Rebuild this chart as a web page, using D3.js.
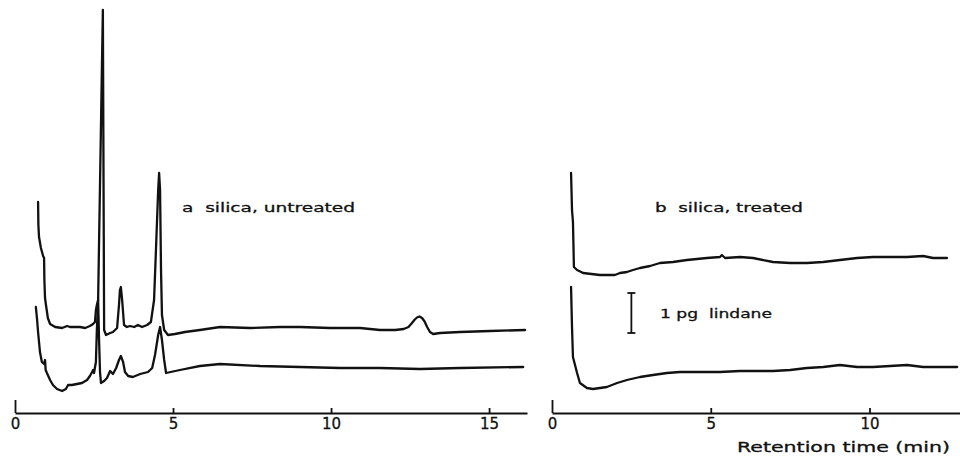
<!DOCTYPE html>
<html>
<head>
<meta charset="utf-8">
<script src="https://cdn.jsdelivr.net/npm/d3@7"></script>
<style>
  html, body { margin: 0; padding: 0; background: #fff; }
  svg { display: block; }
  text { font-family: "DejaVu Sans", sans-serif; fill: #111; }
</style>
</head>
<body>
<svg id="chart" width="960" height="457"></svg>
<script>
// ---------- DATA ----------
// Panel a: silica, untreated  — [retention time (min), detector response (arb.)]
const untreatedUpper = [
  [0.73,21.1],[0.74,18.8],[0.76,17.6],[0.82,16.5],[0.89,15.7],[0.92,15.5],[0.93,13.3],[0.95,11.5],
  [0.98,10.8],[1.04,9.5],[1.11,8.9],[1.27,8.6],[1.49,8.5],[1.65,8.7],[1.74,8.6],[1.90,8.6],
  [2.06,8.6],[2.22,8.5],[2.37,8.7],[2.47,8.9],[2.53,9.1],[2.56,10.3],[2.59,10.8],[2.63,11.3],
  [2.78,40.3],[2.82,8.3],[2.88,7.8],[3.01,8.0],[3.10,8.1],[3.23,8.5],[3.29,10.8],[3.32,12.3],
  [3.35,12.6],[3.39,11.3],[3.45,8.8],[3.54,8.6],[3.64,8.7],[3.77,8.6],[3.89,8.8],[4.02,8.6],
  [4.18,8.8],[4.30,9.1],[4.40,11.3],[4.46,16.3],[4.53,22.3],[4.56,24.0],[4.59,22.3],[4.62,14.3],
  [4.65,9.8],[4.72,8.3],[4.84,7.8],[5.06,7.9],[5.38,8.1],[5.85,8.3],[6.49,8.6],[7.44,8.5],
  [8.39,8.6],[9.02,8.6],[9.97,8.5],[10.92,8.5],[11.55,8.3],[12.03,8.3],[12.30,8.4],[12.45,8.6],
  [12.56,9.0],[12.65,9.35],[12.72,9.55],[12.80,9.65],[12.88,9.5],[12.96,9.15],[13.04,8.6],
  [13.13,8.1],[13.23,7.9],[13.45,8.0],[14.08,8.1],[15.03,8.2],[16.14,8.3]
];
const untreatedLower = [
  [0.66,10.6],[0.70,9.3],[0.73,8.1],[0.79,6.1],[0.85,5.1],[0.92,4.9],[0.95,5.3],[0.97,4.3],
  [1.01,4.0],[1.11,3.3],[1.20,2.8],[1.33,2.4],[1.49,2.2],[1.61,2.4],[1.68,2.8],[1.80,2.8],
  [1.96,2.9],[2.12,3.0],[2.28,3.3],[2.37,3.7],[2.44,4.1],[2.47,4.3],[2.50,4.0],[2.56,5.1],
  [2.59,8.3],[2.63,11.3],[2.66,7.3],[2.69,4.1],[2.72,3.0],[2.82,3.2],[2.91,3.5],[3.01,4.2],
  [3.10,3.9],[3.20,4.5],[3.29,5.3],[3.35,5.7],[3.42,5.1],[3.48,4.1],[3.58,3.7],[3.73,3.6],
  [3.96,3.9],[4.21,4.1],[4.34,4.5],[4.43,5.8],[4.53,7.8],[4.59,8.6],[4.65,7.3],[4.72,5.3],
  [4.78,4.0],[5.22,4.3],[5.85,4.7],[6.49,4.9],[7.75,4.7],[9.02,4.6],[10.28,4.5],[11.55,4.5],
  [12.82,4.4],[14.08,4.5],[16.08,4.6]
];
// Panel b: silica, treated
const treatedUpper = [
  [0.60,24.0],[0.63,20.3],[0.66,19.1],[0.69,14.6],[0.79,14.3],[0.98,14.0],[1.51,13.8],[1.98,13.8],
  [2.14,14.0],[2.36,14.1],[2.55,14.3],[2.77,14.5],[3.09,14.7],[3.40,15.0],[3.81,15.1],[4.25,15.3],
  [4.88,15.5],[5.29,15.6],[5.35,15.8],[5.45,15.5],[5.92,15.6],[6.33,15.5],[6.96,15.1],[7.50,15.0],
  [8.03,15.0],[8.54,15.1],[9.07,15.3],[9.61,15.5],[10.11,15.6],[10.65,15.6],[11.18,15.6],[11.69,15.7],
  [12.00,15.5],[12.44,15.5]
];
const treatedLower = [
  [0.60,12.6],[0.63,8.6],[0.66,5.6],[0.79,4.0],[0.88,3.0],[1.10,2.5],[1.29,2.4],[1.51,2.5],
  [1.73,2.6],[2.05,3.0],[2.36,3.3],[2.77,3.6],[3.18,3.8],[3.62,4.0],[4.03,4.1],[4.44,4.1],
  [4.88,4.1],[5.29,4.1],[5.92,4.2],[6.96,4.2],[7.50,4.3],[8.03,4.5],[8.54,4.6],[9.07,4.8],
  [9.61,4.6],[10.11,4.6],[10.65,4.7],[11.18,4.8],[11.69,4.6],[12.22,4.6],[12.76,4.6]
];
const ticksA = [0, 5, 10, 15];
const ticksB = [0, 5, 10];
const scaleBar = { time: 2.5, from: 8, to: 12, label: "1 pg  lindane" }; // 1 pg lindane = 4 units
const labelA = "a  silica, untreated";
const labelB = "b  silica, treated";
const xTitle = "Retention time (min)";

// ---------- SCALES ----------
const svg = d3.select("#chart");
const y = d3.scaleLinear().domain([0, 40]).range([413, 13]);
const xA = d3.scaleLinear().domain([0, 16.2]).range([15, 527]);
const xB = d3.scaleLinear().domain([0, 12.85]).range([552, 960]);

function drawTrace(data, x) {
  const line = d3.line().x(d => x(d[0])).y(d => y(d[1]));
  svg.append("path")
    .datum(data)
    .attr("d", line)
    .attr("fill", "none")
    .attr("stroke", "#111")
    .attr("stroke-width", 2.3)
    .attr("stroke-linejoin", "round")
    .attr("stroke-linecap", "round");
}
drawTrace(untreatedUpper, xA);
drawTrace(untreatedLower, xA);
drawTrace(treatedUpper, xB);
drawTrace(treatedLower, xB);

function drawAxis(x, ticks) {
  const g = svg.append("g")
    .attr("transform", `translate(0,${y(0)})`)
    .call(d3.axisBottom(x).tickValues(ticks).tickSizeInner(-5).tickSizeOuter(0).tickPadding(5));
  g.select(".domain").attr("stroke", "#111").attr("stroke-width", 2);
  g.selectAll(".tick line").attr("stroke", "#111").attr("stroke-width", 1.8);
  g.selectAll(".tick").filter(d => d === 0).select("line").attr("y2", -13);
  g.selectAll(".tick text")
    .attr("font-size", 15)
    .attr("font-family", "DejaVu Sans, sans-serif")
    .attr("fill", "#111")
    .attr("stroke", "#111").attr("stroke-width", 0.3);
  return g;
}
drawAxis(xA, ticksA);
drawAxis(xB, ticksB);

// scale bar
const sbX = xB(scaleBar.time);
svg.append("line").attr("x1", sbX).attr("x2", sbX)
  .attr("y1", y(scaleBar.from)).attr("y2", y(scaleBar.to))
  .attr("stroke", "#111").attr("stroke-width", 1.8);
[scaleBar.from, scaleBar.to].forEach(v => {
  svg.append("line").attr("x1", sbX - 4).attr("x2", sbX + 4)
    .attr("y1", y(v)).attr("y2", y(v))
    .attr("stroke", "#111").attr("stroke-width", 1.8);
});

// labels
function label(txt, x0, yb, len, size) {
  svg.append("text").attr("x", x0).attr("y", yb)
    .attr("font-size", size)
    .attr("textLength", len).attr("lengthAdjust", "spacingAndGlyphs")
    .attr("xml:space", "preserve")
    .style("white-space", "pre")
    .attr("stroke", "#111").attr("stroke-width", 0.3)
    .text(txt);
}
label(labelA, 182, 212, 173, 13);
label(labelB, 655, 212, 148, 13);
label(scaleBar.label, 660, 318, 112, 13);
label(xTitle, 737, 452, 213, 14);
</script>
</body>
</html>
